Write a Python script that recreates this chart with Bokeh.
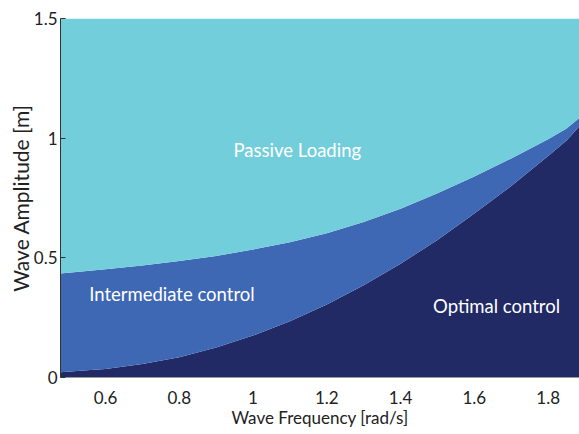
from bokeh.plotting import figure
from bokeh.models import Range1d, FixedTicker, Label
from bokeh.embed import file_html
from bokeh.resources import INLINE

# Data
freq = [0.478, 0.55, 0.6, 0.7, 0.8, 0.9, 1.0, 1.1, 1.2, 1.3, 1.4, 1.5, 1.6, 1.7, 1.8, 1.85, 1.885]
optimal_upper = [0.022, 0.03, 0.036, 0.056, 0.085, 0.125, 0.175, 0.235, 0.305, 0.385, 0.475,
                 0.575, 0.685, 0.80, 0.925, 0.99, 1.05]
intermediate_upper = [0.435, 0.445, 0.452, 0.468, 0.487, 0.508, 0.535, 0.565, 0.603, 0.65, 0.705,
                      0.77, 0.84, 0.915, 0.995, 1.04, 1.085]
amp_max = 1.5
x_ticks = [0.6, 0.8, 1.0, 1.2, 1.4, 1.6, 1.8]
y_ticks = [0, 0.5, 1, 1.5]
region_labels = ["Passive Loading", "Intermediate control", "Optimal control"]

C_LIGHT = "#72CEDB"
C_MID = "#3E67B4"
C_DARK = "#222A66"
FONT = "Lato"

p = figure(width=579, height=434, output_backend="svg", toolbar_location=None,
           x_range=Range1d(freq[0], freq[-1]), y_range=Range1d(0, amp_max),
           min_border_left=60, min_border_right=0, min_border_top=18, min_border_bottom=57)
p.outline_line_color = None
p.grid.visible = False

top = [amp_max] * len(freq)
zero = [0] * len(freq)
p.varea(x=freq, y1=zero, y2=optimal_upper, fill_color=C_DARK)
p.varea(x=freq, y1=optimal_upper, y2=intermediate_upper, fill_color=C_MID)
p.varea(x=freq, y1=intermediate_upper, y2=top, fill_color=C_LIGHT)

p.xaxis.ticker = FixedTicker(ticks=x_ticks)
p.yaxis.ticker = FixedTicker(ticks=y_ticks)
p.xaxis.major_label_overrides = {1.0: "1"}
p.yaxis.major_label_overrides = {0: "0", 0.5: "0.5", 1: "1", 1.5: "1.5"}
for ax in (p.xaxis, p.yaxis):
    ax.minor_tick_line_color = None
    ax.major_tick_in = 5
    ax.major_tick_out = 0
    ax.major_label_text_font = FONT
    ax.major_label_text_font_size = "17px"
    ax.major_label_text_color = "#222222"
    ax.axis_label_text_font = FONT
    ax.axis_label_text_font_style = "normal"
    ax.axis_label_text_color = "#222222"
p.xaxis.axis_line_color = "#999999"
p.xaxis.major_tick_line_color = None
p.yaxis.axis_line_color = "#333333"
p.yaxis.major_tick_line_color = "#333333"
p.xaxis.major_label_standoff = 13
p.yaxis.major_label_standoff = 3
p.xaxis.axis_label = "Wave Frequency [rad/s]"
p.yaxis.axis_label = "Wave Amplitude [m]"
p.xaxis.axis_label_text_font_size = "17px"
p.yaxis.axis_label_text_font_size = "21px"
p.xaxis.axis_label_standoff = 0
p.yaxis.axis_label_standoff = -2

label_pos = [(1.12, 0.95), (0.78, 0.35), (1.66, 0.30)]
for txt, (lx, ly) in zip(region_labels, label_pos):
    p.add_layout(Label(x=lx, y=ly, text=txt, text_font=FONT, text_font_size="18.5px",
                       text_color="white", text_align="center", text_baseline="middle"))

open("out.html", "w").write(file_html(p, INLINE))
